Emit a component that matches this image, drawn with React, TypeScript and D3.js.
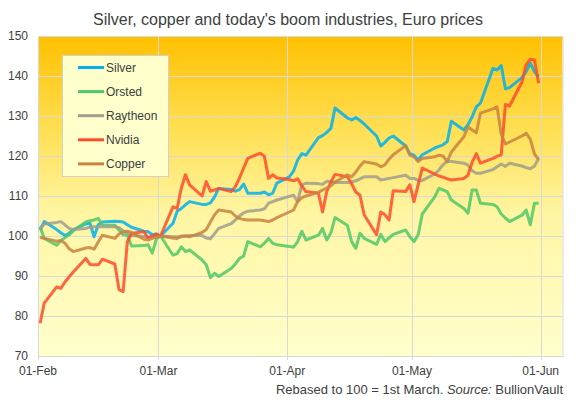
import React, { useEffect, useRef } from 'react';
import * as d3 from 'd3';

// weekdays 1 Feb - 31 May 2024 (noon, as the chart plots them mid-day)
const dates: Date[] = d3.timeDay
    .range(new Date(2024, 1, 1), new Date(2024, 5, 1))
    .filter(d => d.getDay() !== 0 && d.getDay() !== 6)
    .map(d => new Date(d.getFullYear(), d.getMonth(), d.getDate(), 12));

const silver = [
    101.5, 103.6, 101.6, 100.8, 100.1, 100.7, 101.6, 103.0, 103.2, 99.8, 102.8, 103.5, 103.7, 103.6, 103.5, 102.8, 102.2, 101.2, 101.1, 100.3, 100.5,
    100, 103.2, 106.2, 106.9, 107.8, 108.6, 107.9, 107.9, 108.3, 109.8, 111.9, 111.6, 111.2, 111.6, 113.0, 110.7, 110.7, 111.0, 110.3, 110.7, 113.2,
    114.8, 116.2, 119.0, 120.6, 120.2, 124.6, 125.1, 125.9, 126.9, 132.0, 129.5, 129.0, 129.6, 128.9, 128.0, 125.0, 122.5, 123.4, 124.5, 125.0, 122.5, 120.6,
    120.2, 119.0, 120.3, 122.0, 122.4, 122.8, 123.6, 128.7, 126.5, 127.8, 129.8, 132.3, 133.2, 141.9, 141.5, 142.6, 136.8, 137.1, 139.6, 141.1, 143.2, 141.1, 139.8,
];
const orsted = [
    102.3, 99.4, 97.7, 98.8, 99.6, 100.3, 101.3, 103.5, 103.8, 104.0, 104.4, 102.7, 102.7, 101.5, 100.3, 100.2, 97.5, 97.6, 97.8, 95.7, 99.3,
    100, 95.2, 95.6, 97.3, 96.1, 96.5, 94.0, 92.8, 89.6, 90.7, 89.9, 91.9, 93.0, 94.4, 95.0, 98.6, 97.3, 98.2, 99.4, 98.2, 97.8,
    97.4, 97.2, 98.6, 101.2, 99.0, 100.2, 101.9, 99.0, 100.8, 104.6, 102.6, 98.6, 96.9, 100.7, 99.4, 97.9, 100.4, 98.6, 99.5, 100.4, 101.5, 99.8,
    98.6, 100.3, 105.5, 109.8, 111.9, 111.5, 111.1, 109.0, 106.9, 105.7, 111.5, 111.5, 108.2, 107.9, 107.3, 105.5, 104.5, 103.6, 105.2, 106.5, 102.8, 108.2, 108.2,
];
const raytheon = [
    101.9, 103.0, 103.4, 103.6, 102.8, 101.9, 101.6, 101.9, 102.2, 102.3, 102.3, 102.3, 102.3, 102.1, 101.3, 100.7, 100.1, 99.9, 99.7, 99.8, 100.0,
    100, 99.8, 99.8, 99.8, 100.0, 100.1, 100.1, 99.5, 99.3, 100.6, 101.9, 103.1, 104.0, 105.0, 105.8, 106.2, 106.5, 106.8, 108.2, 108.6, 109.0,
    109.9, 110.2, 108.6, 112.8, 113.2, 113.1, 112.9, 113.7, 113.6, 113.4, 113.4, 113.5, 113.8, 114.3, 114.8, 114.8, 114.0, 114.2, 114.4, 114.6, 115.2, 114.4,
    114.4, 113.9, 113.9, 115.5, 116.5, 117.8, 118.7, 118.6, 118.2, 117.7, 116.3, 115.7, 115.7, 116.6, 117.3, 118.0, 117.4, 118.2, 117.5, 117.1, 116.8, 117.5, 119.4,
];
const nvidia = [
    78.2, 83.2, 87.3, 86.9, 88.5, 89.8, 91.0, 94.4, 92.9, 92.8, 92.8, 94.2, 93.0, 86.6, 86.1, 98.5, 100.6, 101.1, 99.5, 100.0, 100.5,
    100, 107.3, 106.9, 112.0, 115.3, 112.8, 110.0, 113.6, 111.2, 111.5, 111.9, 111.1, 112.3, 114.5, 117.0, 119.4, 120.7, 119.9, 114.4, 115.3, 114.5,
    114.1, 113.8, 114.3, 112.5, 111.1, 110.7, 106.0, 111.1, 113.5, 115.4, 114.8, 113.0, 111.0, 110.2, 105.3, 100.3, 106.0, 105.3, 104.0, 111.3, 111.1, 112.8,
    108.6, 112.8, 117.0, 115.5, 115.0, 114.7, 114.3, 114.0, 114.4, 115.2, 118.4, 120.6, 118.2, 119.4, 119.9, 120.3, 132.9, 132.5, 138.5, 142.8, 144.2, 144.0, 138.2,
];
const copper = [
    99.7, 99.4, 98.7, 98.9, 98.2, 96.8, 96.1, 97.0, 97.1, 96.7, 98.5, 100.2, 99.4, 100.5, 101.0, 101.2, 100.9, 99.2, 99.0, 99.4, 99.7,
    100, 99.5, 99.4, 100.0, 100.0, 99.8, 100.9, 101.6, 103.5, 105.3, 106.5, 106.0, 105.0, 104.4, 104.1, 104.0, 104.0, 103.8, 103.6, 104.0, 104.6,
    106.0, 106.5, 108.6, 109.6, 110.0, 110.9, 111.5, 112.0, 112.6, 113.5, 115.3, 114.8, 116.0, 117.5, 118.6, 118.0, 117.3, 117.8, 119.2, 120.3, 122.6, 120.2,
    119.8, 118.6, 119.4, 119.8, 120.2, 120.0, 118.6, 121.0, 124.8, 127.3, 126.5, 125.8, 130.7, 131.8, 132.3, 125.5, 123.0, 123.5, 125.0, 125.7, 124.2, 120.5, 119.2,
];

const seriesNames = ['Silver', 'Orsted', 'Raytheon', 'Nvidia', 'Copper'];
const seriesValues = [silver, orsted, raytheon, nvidia, copper];
const seriesColors = ['#00b0f0', '#4fc866', '#a09e8c', '#ff4b2b', '#c98340'];

const yTicks = [70, 80, 90, 100, 110, 120, 130, 140, 150];
const monthTicks = [new Date(2024, 1, 1), new Date(2024, 2, 1), new Date(2024, 3, 1), new Date(2024, 4, 1), new Date(2024, 5, 1)];

const title = "Silver, copper and today's boom industries, Euro prices";

const App: React.FC = () => {
    const ref = useRef<SVGSVGElement>(null);
    const width = 576;
    const height = 404;
    const margin = { top: 36, right: 13.5, bottom: 48, left: 38 };

    useEffect(() => {
        drawChart();
        //eslint-disable-next-line
    }, []);

    const drawChart = () => {
        const x = d3.scaleTime()
            .domain([new Date(2024, 1, 1), new Date(2024, 5, 6, 6)])
            .range([margin.left, width - margin.right]);
        const y = d3.scaleLinear().domain([70, 150]).range([height - margin.bottom, margin.top]);

        const svg = d3.select(ref.current);
        svg.selectAll('*').remove();
        svg.style('font-family', '"Liberation Sans", Arial, sans-serif');

        // fondo degradado
        const grad = svg.append('defs').append('linearGradient')
            .attr('id', 'bg').attr('x1', 0).attr('y1', 0).attr('x2', 0).attr('y2', 1);
        grad.append('stop').attr('offset', '0%').attr('stop-color', '#ffc000');
        grad.append('stop').attr('offset', '30%').attr('stop-color', '#ffe055');
        grad.append('stop').attr('offset', '55%').attr('stop-color', '#fff5a2');
        grad.append('stop').attr('offset', '100%').attr('stop-color', '#ffffcc');

        svg.append('rect').attr('width', width).attr('height', height).attr('fill', '#fff');

        const plotW = width - margin.left - margin.right;
        const plotH = height - margin.top - margin.bottom;
        svg.append('rect')
            .attr('x', margin.left).attr('y', margin.top)
            .attr('width', plotW).attr('height', plotH)
            .attr('fill', 'url(#bg)');

        // rejilla
        svg.append('g').selectAll('line').data(yTicks).enter().append('line')
            .attr('x1', margin.left).attr('x2', width - margin.right)
            .attr('y1', d => y(d) + 0.5).attr('y2', d => y(d) + 0.5)
            .attr('stroke', '#d9d9d9').attr('stroke-width', 1);
        svg.append('g').selectAll('line').data(monthTicks).enter().append('line')
            .attr('x1', d => Math.round(x(d)) + 0.5).attr('x2', d => Math.round(x(d)) + 0.5)
            .attr('y1', margin.top).attr('y2', height - margin.bottom + 4)
            .attr('stroke', '#d9d9d9').attr('stroke-width', 1);
        svg.append('rect')
            .attr('x', margin.left + 0.5).attr('y', margin.top + 0.5)
            .attr('width', plotW).attr('height', plotH)
            .attr('fill', 'none').attr('stroke', '#d9d9d9');

        // etiquetas de ejes
        svg.append('g').selectAll('text').data(yTicks).enter().append('text')
            .attr('x', 28).attr('y', d => y(d)).attr('dy', '0.35em')
            .attr('text-anchor', 'end').attr('font-size', 12).attr('fill', '#404040')
            .text(d => d);
        svg.append('g').selectAll('text').data(monthTicks).enter().append('text')
            .attr('x', d => x(d)).attr('y', 375)
            .attr('text-anchor', 'middle').attr('font-size', 12).attr('fill', '#404040')
            .text(d => d3.timeFormat('%d-%b')(d));

        // líneas
        seriesValues.forEach((vals, i) => {
            const line = d3.line<number>()
                .x((_, j) => x(dates[j]))
                .y(d => y(d));
            svg.append('path')
                .datum(vals)
                .attr('fill', 'none')
                .attr('stroke', seriesColors[i])
                .attr('stroke-width', 3)
                .attr('stroke-linejoin', 'round')
                .attr('stroke-opacity', 0.85)
                .attr('d', line);
        });

        // leyenda
        const legend = svg.append('g');
        legend.append('rect')
            .attr('x', 62.5).attr('y', 55.5).attr('width', 106).attr('height', 121)
            .attr('fill', '#ffffcc').attr('stroke', '#d0d0d0');
        seriesNames.forEach((name, i) => {
            const ly = 67.5 + i * 24.1;
            legend.append('line')
                .attr('x1', 78).attr('x2', 104).attr('y1', ly).attr('y2', ly)
                .attr('stroke', seriesColors[i]).attr('stroke-width', 3);
            legend.append('text')
                .attr('x', 106).attr('y', ly).attr('dy', '0.35em')
                .attr('font-size', 12).attr('fill', '#404040')
                .text(name);
        });

        // título y nota
        svg.append('text')
            .attr('x', 288).attr('y', 25)
            .attr('text-anchor', 'middle').attr('font-size', 16).attr('fill', '#404040')
            .text(title);
        const note = svg.append('text')
            .attr('x', 563).attr('y', 394)
            .attr('text-anchor', 'end').attr('font-size', 13).attr('fill', '#404040');
        note.append('tspan').text('Rebased to 100 = 1st March. ');
        note.append('tspan').attr('font-style', 'italic').text('Source:');
        note.append('tspan').text(' BullionVault');
    };

    return <svg ref={ref} width={width} height={height} style={{ position: 'absolute', left: 0, top: 0, display: 'block' }}></svg>;
};

export default App;
